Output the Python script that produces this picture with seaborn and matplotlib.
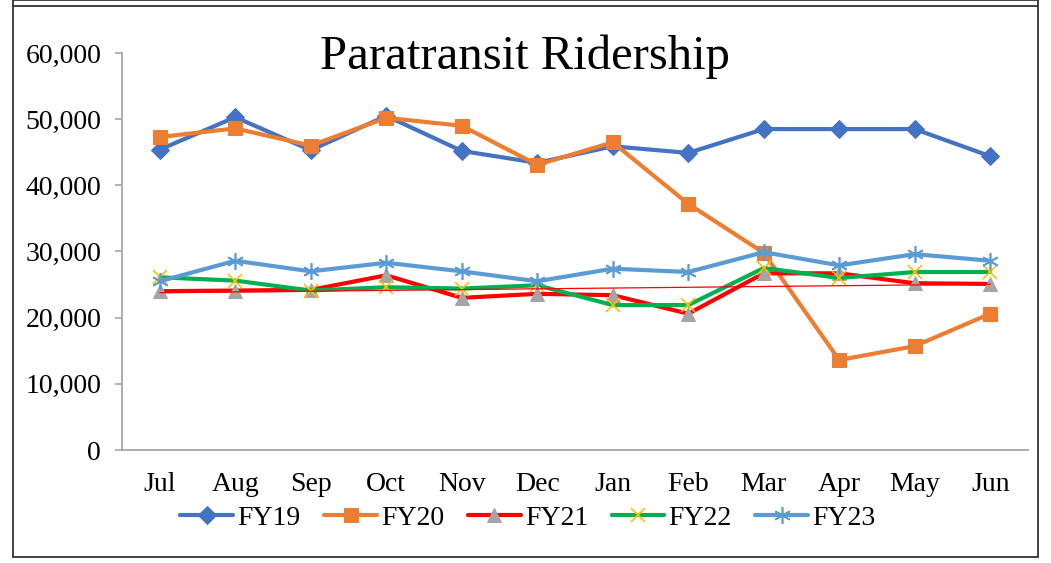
import numpy as np
import matplotlib
matplotlib.use("Agg")
import matplotlib.pyplot as plt
import seaborn as sns
from matplotlib.patches import Rectangle
from matplotlib.lines import Line2D

months = ["Jul", "Aug", "Sep", "Oct", "Nov", "Dec", "Jan", "Feb", "Mar", "Apr", "May", "Jun"]

fy19 = [45400, 50300, 45300, 50500, 45200, 43400, 45900, 44900, 48500, 48500, 48500, 44400]
fy20 = [47300, 48600, 46000, 50200, 49000, 43100, 46500, 37200, 29800, 13600, 15700, 20600]
fy21 = [24000, 24100, 24200, 26400, 23000, 23600, 23400, 20600, 26700, 26700, 25200, 25100]
fy22 = [26100, 25600, 24100, 24600, 24400, 24900, 21900, 21900, 27500, 26000, 26900, 26900]
fy23 = [25500, 28600, 27000, 28300, 27000, 25500, 27400, 26900, 29900, 27900, 29600, 28600]

yticks = [0, 10000, 20000, 30000, 40000, 50000, 60000]

sns.set_style("white")
plt.rcParams['font.family'] = ['Liberation Serif', 'DejaVu Serif']
plt.rcParams['text.color'] = 'black'
plt.rcParams['xtick.labelcolor'] = 'black'
plt.rcParams['ytick.labelcolor'] = 'black'

fig = plt.figure(figsize=(10.51, 5.63), dpi=100)
ax = fig.add_axes([122 / 1051, 1 - 450 / 563, (1028 - 122) / 1051, (450 - 53) / 563])

series = [
    ("FY19", fy19, "#4472C4", dict(marker="D", markersize=9, markerfacecolor="#4472C4", markeredgecolor="#4472C4")),
    ("FY20", fy20, "#ED7D31", dict(marker="s", markersize=10, markerfacecolor="#ED7D31", markeredgecolor="#ED7D31")),
    ("FY21", fy21, "#FF0000", dict(marker="^", markersize=10, markerfacecolor="#A5A5A5", markeredgecolor="#A5A5A5")),
    ("FY22", fy22, "#00B050", dict(marker="x", markersize=10, markeredgecolor="#FFC000", markeredgewidth=1.2)),
    ("FY23", fy23, "#5B9BD5", dict(marker=(6, 2, 0), markersize=12, markeredgecolor="#5B9BD5", markeredgewidth=1.2)),
]

for name, vals, col, mk in series:
    sns.lineplot(x=months, y=vals, ax=ax, color=col, linewidth=3, sort=False, label=name, **mk)

# linear trendline of FY21
xs = np.arange(len(months))
slope, icpt = np.polyfit(xs, fy21, 1)
ax.plot(xs, slope * xs + icpt, color="#FF0000", linewidth=0.9, zorder=5)

ax.set_xlim(-0.5, len(months) - 0.5)
ax.set_ylim(0, 60000)
ax.set_yticks(yticks)
ax.set_yticklabels([f"{v:,}" for v in yticks], fontsize=20)
ax.set_xticks(xs)
ax.set_xticklabels(months, fontsize=20)
ax.set_xticks(np.arange(-0.5, len(months)), minor=True)
ax.tick_params(axis="x", which="major", length=0, pad=16)
ax.tick_params(axis="x", which="minor", length=5, width=1.2, color="#A6A6A6", direction="out")
ax.tick_params(axis="y", length=5, width=1.2, color="#A6A6A6", direction="out", pad=10, left=True)
for s in ["top", "right"]:
    ax.spines[s].set_visible(False)
for s in ["left", "bottom"]:
    ax.spines[s].set_color("#A6A6A6")
    ax.spines[s].set_linewidth(1.3)
ax.set_xlabel("")
ax.set_ylabel("")
ax.grid(False)

handles, labels = ax.get_legend_handles_labels()
ax.get_legend().remove()
fig.legend(handles, labels, loc="center", bbox_to_anchor=(528 / 1051, 1 - 518 / 563), ncol=5,
           frameon=False, fontsize=20, handlelength=1.9, handletextpad=0.15, columnspacing=0.85)

fig.text(525 / 1051, 1 - 57 / 563, "Paratransit Ridership", ha="center", va="center", fontsize=35)

# outer chart frame
fig.patches.append(Rectangle((12.5 / 1051, 1 - 557 / 563), (1037.5 - 12.5) / 1051, 557 / 563,
                             transform=fig.transFigure, fill=False, edgecolor="#333333", linewidth=1.3))
fig.lines.append(Line2D([12.5 / 1051, 1037.5 / 1051], [1 - 6 / 563, 1 - 6 / 563],
                        transform=fig.transFigure, color="#333333", linewidth=1.3))

fig.savefig("out.png", dpi=100)
